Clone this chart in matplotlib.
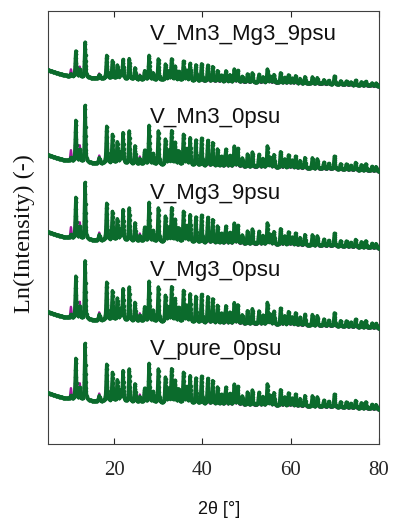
import numpy as np
import matplotlib
matplotlib.use("Agg")
import matplotlib.pyplot as plt

# ---------------- data ----------------
samples = ["V_Mn3_Mg3_9psu", "V_Mn3_0psu", "V_Mg3_9psu", "V_Mg3_0psu", "V_pure_0psu"]
# vertical offset of each pattern (Ln(Intensity) at 2theta = 5 deg)
offsets = [44.9, 36.4, 28.7, 20.7, 12.6]
# relative peak-height scale of each pattern
scales = [0.65, 1.05, 1.05, 1.08, 1.05]

# background shape (relative Ln(Intensity))
bg_x = [5, 7, 9, 11, 15, 20, 30, 40, 50, 60, 70, 80]
bg_y = [0.0, -0.3, -0.55, -0.65, -0.8, -0.85, -1.0, -1.1, -1.2, -1.3, -1.4, -1.6]

# reflections: position (2theta), calculated height, observed height
peak_pos = [10.2, 11.3, 12.2, 13.4, 16.6, 18.3, 19.6, 20.7, 21.4, 22.0, 23.4, 24.7,
            25.8, 26.9, 27.9, 28.8, 30.0, 31.6, 32.3, 33.0, 33.8, 34.6, 35.7, 36.4,
            37.2, 38.5, 39.8, 41.2, 42.3, 43.4, 44.3, 45.3, 46.2, 47.2, 48.0, 49.0,
            50.2, 51.3, 52.8, 53.7, 54.7, 55.4, 56.2, 57.7, 58.6, 59.5, 60.3, 61.1,
            62.1, 63.2, 64.9, 66.0, 67.5, 68.6, 69.9, 71.3, 72.6, 73.6, 74.7, 76.0,
            77.0, 78.4, 79.3]
calc_h = [0.3, 3.9, 1.1, 5.4, 0.5, 3.5, 2.7, 2.0, 1.0, 2.9, 3.1, 1.7,
          0.5, 1.3, 3.7, 1.0, 3.2, 2.4, 1.3, 3.2, 2.1, 1.3, 2.9, 1.5,
          2.6, 2.4, 2.6, 2.4, 2.2, 1.6, 0.9, 1.6, 1.0, 1.9, 1.7, 0.8,
          1.2, 1.4, 1.2, 0.8, 2.0, 0.9, 1.2, 1.5, 0.8, 1.2, 0.7, 1.1,
          0.7, 1.0, 1.0, 0.9, 0.6, 0.5, 1.2, 0.5, 0.5, 0.4, 0.7, 0.5,
          0.6, 0.4, 0.4]
obs_h = [1.0, 3.9, 1.5, 5.4, 0.7, 3.5, 2.7, 2.0, 1.0, 2.9, 3.1, 1.7,
         0.7, 1.3, 3.7, 1.0, 3.2, 2.4, 1.3, 3.2, 2.1, 1.3, 2.9, 1.5,
         2.6, 2.4, 2.6, 2.4, 2.2, 1.6, 0.9, 1.6, 1.0, 1.9, 1.7, 0.8,
         1.2, 1.4, 1.2, 0.8, 2.0, 0.9, 1.2, 1.5, 0.8, 1.2, 0.7, 1.1,
         0.7, 1.0, 1.0, 0.9, 0.6, 0.5, 1.2, 0.5, 0.5, 0.4, 0.7, 0.5,
         0.6, 0.4, 0.4]

x_ticks = [20, 40, 60, 80]
x_range = [5, 80]

# ---------------- build profiles ----------------
tt = np.arange(5.0, 80.0001, 0.02)
bg = np.interp(tt, bg_x, bg_y)


def profile(heights, fwhm=0.3):
    y = np.zeros_like(tt)
    for p, h in zip(peak_pos, heights):
        d = (tt - p) / fwhm
        y += h * (0.5 * np.exp(-4 * np.log(2) * d ** 2) + 0.5 / (1 + 4 * d ** 2))
    return y


calc_prof = profile(calc_h)
obs_prof = profile(obs_h)

# ---------------- figure ----------------
W, H = 393, 519
fig = plt.figure(figsize=(W / 100, H / 100), dpi=100)
ax = fig.add_axes([48 / W, 1 - 444 / H, 331 / W, 433 / H])

green = "#0b6b2c"
magenta = "#a0189c"
for name, off, sc in zip(samples, offsets, scales):
    obs = off + bg + sc * obs_prof - 0.15 * (tt > 40)
    calc = off + bg + sc * calc_prof
    ax.plot(tt, obs, color=magenta, lw=1.6, zorder=2)
    ax.plot(tt, calc, color=green, lw=2.4, marker='.', ms=3.0, markevery=2,
            zorder=3)

ax.set_xlim(x_range)
ax.set_ylim((519 - 444) / 10, (519 - 11) / 10)
ax.set_xticks(x_ticks)
ax.set_xticklabels([str(v) for v in x_ticks], family="Liberation Serif", fontsize=15)
ax.set_yticks([])
ax.tick_params(axis='x', direction='in', top=True, length=4, width=0.8,
               pad=12, colors='#262626')
for s in ax.spines.values():
    s.set_color('#404040')
    s.set_linewidth(0.8)

# labels of patterns
label_base_px = [40, 123, 199, 276, 355]
for name, yb in zip(samples, label_base_px):
    fig.text(150 / W, 1 - yb / H, name, family="Liberation Sans", fontsize=16,
             ha='left', va='baseline', color='#111111')

fig.text(219 / W, 1 - 510 / H, "2θ [°]", family="Liberation Sans", fontsize=13,
         ha='center', va='center', color='#111111')
fig.text(24 / W, 1 - 234 / H, "Ln(Intensity) (-)", family="Liberation Serif",
         fontsize=17.5, rotation=90, ha='center', va='center', color='#111111')

fig.savefig("out.png", dpi=100)
